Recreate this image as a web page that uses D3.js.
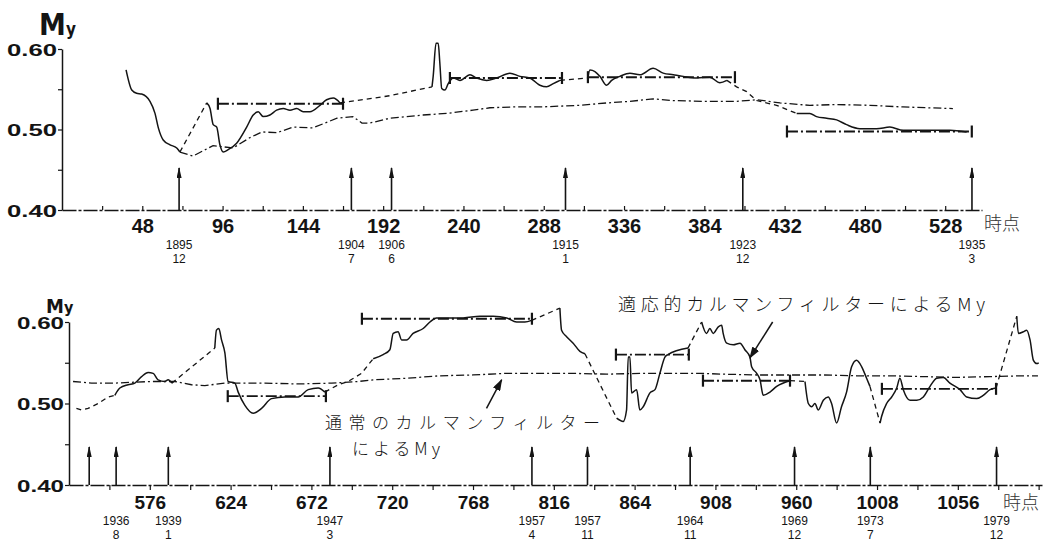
<!DOCTYPE html>
<html>
<head>
<meta charset="utf-8">
<script src="https://cdn.jsdelivr.net/npm/d3@7"></script>
<style>
  body { margin: 0; background: #fff; }
  svg { display: block; }
</style>
</head>
<body>
<svg id="chart" width="1046" height="543"></svg>
<script>
// ---- data (time index t, My value) ----

// y ticks
const yTickValues = [0.40, 0.50, 0.60];
const yTickLabels = ["0.40", "0.50", "0.60"];
const yMinorTicks = [0.45, 0.55];

// x tick labels
const topTickValues = [48, 96, 144, 192, 240, 288, 336, 384, 432, 480, 528];
const topTickLabels = ["48", "96", "144", "192", "240", "288", "336", "384", "432", "480", "528"];
const bottomTickValues = [576, 624, 672, 720, 768, 816, 864, 912, 960, 1008, 1056];
const bottomTickLabels = ["576", "624", "672", "720", "768", "816", "864", "908", "960", "1008", "1056"];

// events (arrows)
const topEvents = [70, 173, 197, 301, 407, 544];
const topEventLabels = [["1895", "12"], ["1904", "7"], ["1906", "6"], ["1915", "1"], ["1923", "12"], ["1935", "3"]];
const bottomEvents = [540, 556, 587, 683, 803, 836, 897, 959, 1004, 1079];
const bottomEventLabels = [null, ["1936", "8"], ["1939", "1"], ["1947", "3"], ["1957", "4"], ["1957", "11"],
  ["1964", "11"], ["1969", "12"], ["1973", "7"], ["1979", "12"]];

// adaptive Kalman filter My: observed pieces (solid) and interpolated pieces (dashed)
const topAdaptiveObs = [
  [[38.3,0.574],[41.7,0.549],[44.6,0.545],[47.6,0.544],[52.6,0.535],[55.6,0.520],[57.6,0.502],[60.5,0.487],[64.6,0.481],[68.6,0.477],[70.5,0.472]],
  [[86.5,0.533],[88.5,0.526],[90.4,0.506],[92.5,0.503],[94.4,0.481],[96.4,0.472],[99.4,0.475],[104.4,0.483],[110.4,0.503],[114.3,0.518],[117.3,0.522],[120.3,0.516],[124.3,0.518],[128.3,0.524],[132.3,0.526],[136.3,0.524],[140.3,0.526],[144.2,0.522],[148.2,0.522],[154.2,0.530],[158.2,0.537],[162.2,0.539],[166.2,0.533]],
  [[221.2,0.553],[221.9,0.566],[223.6,0.607],[224.9,0.607],[225.9,0.582],[227.0,0.551],[228.9,0.549],[230.9,0.557],[233.9,0.564],[237.9,0.561],[243.9,0.568],[247.9,0.564],[253.9,0.561],[259.8,0.564],[267.8,0.570],[273.8,0.566],[279.7,0.564],[285.7,0.555],[289.7,0.553],[293.7,0.557],[297.7,0.561]],
  [[314.4,0.564],[315.6,0.574],[318.6,0.572],[321.6,0.566],[325.6,0.555],[328.6,0.561],[333.5,0.566],[339.5,0.570],[345.5,0.568],[353.4,0.576],[359.4,0.570],[365.4,0.568],[371.4,0.566],[379.4,0.564],[387.3,0.565],[393.3,0.558],[397.5,0.561]],
  [[439.2,0.520],[447.1,0.520],[451.1,0.516],[457.1,0.514],[463.1,0.512],[469.0,0.506],[477.0,0.501],[487.0,0.501],[494.9,0.503],[502.9,0.499],[514.8,0.499],[522.8,0.499],[530.8,0.499],[540.8,0.497]]
];
const topAdaptiveGap = [
  [[70.5,0.472],[86.5,0.533]],
  [[166.2,0.533],[196.1,0.542],[221.2,0.553]],
  [[297.7,0.561],[314.4,0.564]],
  [[397.5,0.561],[403.3,0.553],[409.3,0.547],[415.2,0.536],[427.2,0.530],[439.2,0.520]]
];
const bottomAdaptiveObs = [
  [[555.2,0.510],[558.2,0.519],[563.1,0.523],[567.1,0.525],[571.1,0.533],[575.0,0.538],[578.0,0.537],[580.9,0.529],[584.9,0.527],[586.9,0.529],[589.1,0.525]],
  [[614.6,0.568],[615.6,0.590],[617.0,0.592],[618.6,0.578],[620.6,0.562],[622.5,0.527],[626.5,0.525],[628.5,0.514],[632.4,0.498],[637.4,0.488],[642.4,0.494],[648.3,0.506],[656.2,0.508],[664.1,0.508],[670.1,0.517],[676.0,0.519],[680.0,0.514]],
  [[708.7,0.555],[714.6,0.560],[718.6,0.566],[720.6,0.586],[723.5,0.588],[725.6,0.578],[728.5,0.578],[732.4,0.586],[738.4,0.592],[742.4,0.600],[746.3,0.605],[754.3,0.605],[762.2,0.605],[772.1,0.607],[780.0,0.607],[788.0,0.605],[793.9,0.600],[798.8,0.600],[802.8,0.602]],
  [[819.6,0.617],[820.6,0.590],[823.6,0.582],[827.5,0.574],[831.5,0.564],[834.5,0.561]],
  [[853.3,0.482],[857.2,0.478],[859.2,0.492],[860.2,0.557],[861.2,0.557],[862.2,0.513],[865.2,0.517],[867.1,0.492],[869.1,0.496],[873.1,0.513],[876.1,0.517],[879.0,0.537],[882.0,0.557],[883.8,0.560],[895.7,0.568]],
  [[903.8,0.600],[906.7,0.586],[908.7,0.592],[910.7,0.586],[913.7,0.594],[915.7,0.596],[916.6,0.586],[918.7,0.574],[922.6,0.572],[926.6,0.574],[929.5,0.566],[932.5,0.557],[933.5,0.545],[936.5,0.537],[938.5,0.529],[940.4,0.510],[944.4,0.514],[948.4,0.521],[956.3,0.528]],
  [[965.2,0.527],[967.2,0.500],[969.2,0.496],[971.1,0.500],[973.1,0.492],[976.1,0.504],[979.0,0.508],[981.0,0.500],[984.0,0.476],[986.9,0.496],[989.9,0.514],[992.9,0.545],[995.8,0.553],[998.9,0.545],[1001.8,0.531],[1003.8,0.521]],
  [[1009.8,0.476],[1010.7,0.484],[1013.7,0.500],[1016.7,0.508],[1019.7,0.519],[1021.6,0.531],[1023.6,0.517],[1027.6,0.504],[1031.6,0.504],[1035.5,0.508],[1039.5,0.521],[1043.4,0.531],[1047.4,0.532],[1051.3,0.525],[1057.3,0.517],[1061.3,0.508],[1067.2,0.506],[1071.1,0.510],[1075.1,0.517],[1078.7,0.519]],
  [[1091.0,0.607],[1092.0,0.586],[1094.9,0.588],[1096.9,0.590],[1098.9,0.578],[1100.9,0.553],[1102.9,0.549],[1104.0,0.550]]
];
const bottomAdaptiveGap = [
  [[532.4,0.494],[535.4,0.492],[539.3,0.494],[545.3,0.500],[551.2,0.508],[555.2,0.510]],
  [[589.1,0.525],[614.6,0.568]],
  [[680.0,0.514],[687.9,0.523],[693.8,0.527],[701.8,0.537],[708.7,0.555]],
  [[802.8,0.602],[819.6,0.617]],
  [[834.5,0.561],[853.3,0.482]],
  [[895.7,0.568],[903.8,0.600]],
  [[956.3,0.528],[965.2,0.527]],
  [[1003.8,0.521],[1009.8,0.476]],
  [[1078.7,0.519],[1091.0,0.607]]
];

// ordinary Kalman filter My
const topConventional = [[70.5,0.472],[78.3,0.467],[90.3,0.480],[102.2,0.477],[112.4,0.490],[119.5,0.497],[128.5,0.496],[138.1,0.503],[150.0,0.502],[164.4,0.514],[173.9,0.516],[179.3,0.508],[184.1,0.508],[196.1,0.514],[215.8,0.518],[230.1,0.520],[245.7,0.524],[255.8,0.527],[269.6,0.528],[285.7,0.528],[309.6,0.530],[325.8,0.533],[339.5,0.535],[353.3,0.538],[365.2,0.536],[383.1,0.535],[403.5,0.535],[415.4,0.537],[429.2,0.533],[447.1,0.530],[463.2,0.531],[482.9,0.530],[502.7,0.528],[532.6,0.526]];
const bottomConventional = [[530.4,0.527],[541.4,0.525],[555.2,0.525],[565.1,0.526],[577.0,0.527],[590.9,0.527],[600.8,0.523],[608.7,0.522],[620.6,0.525],[628.5,0.525],[644.3,0.525],[664.1,0.524],[684.0,0.525],[699.8,0.527],[708.7,0.529],[728.5,0.531],[748.3,0.534],[768.1,0.535],[788.0,0.537],[807.7,0.537],[827.5,0.537],[847.4,0.536],[867.2,0.537],[886.9,0.537],[902.8,0.537],[916.6,0.536],[936.5,0.535],[956.3,0.535],[976.1,0.535],[996.0,0.534],[1015.7,0.534],[1035.5,0.533],[1055.3,0.532],[1075.1,0.533],[1094.9,0.534],[1103.6,0.534]];

// period means [t start, t end, My]
const topMeans = [[93.2,168.0,0.532],[231.9,298.9,0.564],[314.4,402.3,0.565],[433.4,543.9,0.4975]];
const bottomMeans = [[622.3,680.6,0.509],[702.0,803.0,0.604],[852.9,896.2,0.560],[904.6,956.3,0.528],[1010.9,1078.7,0.518]];

// ---- drawing ----
const ink = "#141414";
const numFont = "'Liberation Sans', Arial, sans-serif";
const jpFont = "'Noto Sans CJK JP', sans-serif";

const svg = d3.select("#chart");
const defs = svg.append("defs");
defs.append("marker")
    .attr("id", "evHead")
    .attr("viewBox", "0 0 10 10")
    .attr("preserveAspectRatio", "none")
    .attr("refX", 9).attr("refY", 5)
    .attr("markerWidth", 11).attr("markerHeight", 5)
    .attr("markerUnits", "userSpaceOnUse")
    .attr("orient", "auto")
  .append("path").attr("d", "M0,0 L10,5 L0,10 Z").attr("fill", ink);
defs.append("marker")
    .attr("id", "noteHead")
    .attr("viewBox", "0 0 10 10")
    .attr("preserveAspectRatio", "none")
    .attr("refX", 9).attr("refY", 5)
    .attr("markerWidth", 12).attr("markerHeight", 8)
    .attr("markerUnits", "userSpaceOnUse")
    .attr("orient", "auto")
  .append("path").attr("d", "M0,0 L10,5 L0,10 Z").attr("fill", ink);

function drawPanel(cfg) {
  const x = d3.scaleLinear().domain(cfg.xDomain).range(cfg.xRange);
  const y = d3.scaleLinear().domain([0.40, 0.60]).range(cfg.yRange);
  const g = svg.append("g");
  const y0 = y(0.40);

  // x axis
  const labelOf = new Map(cfg.tickValues.map((v, i) => [v, cfg.tickLabels[i]]));
  const gx = g.append("g")
      .attr("transform", `translate(0,${y0})`)
      .call(d3.axisBottom(x)
        .tickValues(cfg.minorTicks)
        .tickSize(cfg.xTickSize)
        .tickSizeOuter(0)
        .tickFormat(d => labelOf.get(d) || ""));
  gx.select(".domain").attr("stroke", ink).attr("stroke-width", 1.3).attr("stroke-dasharray", "14 2 3 2");
  gx.selectAll(".tick line").attr("stroke", ink).attr("stroke-width", 1.2);
  gx.selectAll(".tick text")
      .attr("y", cfg.xLabelY).attr("dy", null)
      .attr("fill", ink)
      .style("font-family", numFont).style("font-weight", "bold").style("font-size", cfg.xLabelSize + "px");

  // y axis
  const gy = g.append("g")
      .attr("transform", `translate(${cfg.xRange[0]},0)`)
      .call(d3.axisLeft(y)
        .tickValues(yTickValues.concat(yMinorTicks))
        .tickSize(4)
        .tickSizeOuter(0)
        .tickFormat(d => { const i = yTickValues.indexOf(d); return i >= 0 ? yTickLabels[i] : ""; }));
  gy.select(".domain").attr("stroke", ink).attr("stroke-width", 1.5);
  gy.selectAll(".tick line").attr("stroke", ink).attr("stroke-width", 1.2);
  gy.selectAll(".tick text")
      .attr("x", -5).attr("dy", "0.36em")
      .attr("fill", ink)
      .attr("textLength", d => yTickValues.includes(d) ? cfg.yLabelWidth : null)
      .attr("lengthAdjust", "spacingAndGlyphs")
      .style("font-family", numFont).style("font-weight", "bold").style("font-size", "17px");

  // "My" axis title
  const my = g.append("text")
      .attr("x", cfg.myPos[0]).attr("y", cfg.myPos[1])
      .attr("fill", ink)
      .style("font-family", "'Liberation Sans Narrow', 'DejaVu Sans Condensed', " + numFont)
      .style("font-weight", "bold");
  my.append("tspan").text("M").style("font-size", cfg.mySize[0] + "px");
  my.append("tspan").text("y").style("font-size", cfg.mySize[1] + "px");

  // "時点" axis title
  g.append("text")
      .attr("x", cfg.unitPos[0]).attr("y", cfg.unitPos[1])
      .attr("fill", "#333")
      .style("font-family", jpFont).style("font-weight", 300).style("font-size", "18px")
      .text("時点");

  // ordinary Kalman My (dash-dot)
  const line = d3.line().x(d => x(d[0])).y(d => y(d[1]));
  g.append("path")
      .datum(cfg.conventional)
      .attr("d", line)
      .attr("fill", "none").attr("stroke", ink).attr("stroke-width", 1.3)
      .attr("stroke-dasharray", "8 3 2 3");

  // adaptive Kalman My: interpolated parts dashed, observed parts solid
  g.selectAll(".gap")
    .data(cfg.gaps)
    .join("path")
      .attr("class", "gap")
      .attr("d", line)
      .attr("fill", "none").attr("stroke", ink).attr("stroke-width", 1.3)
      .attr("stroke-dasharray", "5 4");
  const smooth = d3.line().x(d => x(d[0])).y(d => y(d[1])).curve(d3.curveMonotoneX);
  g.selectAll(".obs")
    .data(cfg.observed)
    .join("path")
      .attr("class", "obs")
      .attr("d", smooth)
      .attr("fill", "none").attr("stroke", ink).attr("stroke-width", 1.5)
      .attr("stroke-linejoin", "round");

  // period means with end caps
  const means = g.selectAll(".mean").data(cfg.means).join("g").attr("class", "mean");
  means.append("line")
      .attr("x1", d => x(d[0])).attr("x2", d => x(d[1]))
      .attr("y1", d => y(d[2])).attr("y2", d => y(d[2]))
      .attr("stroke", ink).attr("stroke-width", 1.9)
      .attr("stroke-dasharray", "11 3 2 3");
  [0, 1].forEach(k => {
    means.append("line")
        .attr("x1", d => x(d[k])).attr("x2", d => x(d[k]))
        .attr("y1", d => y(d[2]) - 6).attr("y2", d => y(d[2]) + 6)
        .attr("stroke", ink).attr("stroke-width", 2.2);
  });

  // event arrows and dates
  const ev = g.selectAll(".event").data(cfg.events).join("g").attr("class", "event");
  ev.append("line")
      .attr("x1", d => x(d)).attr("x2", d => x(d))
      .attr("y1", y0).attr("y2", y0 - cfg.arrowLen)
      .attr("stroke", ink).attr("stroke-width", 1.6)
      .attr("marker-end", "url(#evHead)");
  cfg.events.forEach((t, i) => {
    const lab = cfg.eventLabels[i];
    if (!lab) return;
    lab.forEach((s, j) => {
      g.append("text")
          .attr("x", x(t)).attr("y", cfg.dateY[j])
          .attr("text-anchor", "middle")
          .attr("fill", ink)
          .style("font-family", numFont).style("font-size", "12px")
          .text(s);
    });
  });
  return { x, y, g };
}

const topPanel = drawPanel({
  xDomain: [0, 550], xRange: [62, 982], yRange: [210, 49],
  minorTicks: d3.range(24, 549, 24),
  tickValues: topTickValues, tickLabels: topTickLabels,
  xTickSize: -4, xLabelY: 23, xLabelSize: 20,
  yLabelWidth: 50,
  myPos: [39, 35], mySize: [30, 17],
  unitPos: [984, 230],
  conventional: topConventional, gaps: topAdaptiveGap, observed: topAdaptiveObs, means: topMeans,
  events: topEvents, eventLabels: topEventLabels, arrowLen: 42, dateY: [249, 263]
});

const bottomPanel = drawPanel({
  xDomain: [528, 1106], xRange: [69, 1042], yRange: [485, 322],
  minorTicks: d3.range(552, 1105, 24),
  tickValues: bottomTickValues, tickLabels: bottomTickLabels,
  xTickSize: 5, xLabelY: 24, xLabelSize: 19,
  yLabelWidth: 47,
  myPos: [46, 313], mySize: [20, 16],
  unitPos: [1003, 509],
  conventional: bottomConventional, gaps: bottomAdaptiveGap, observed: bottomAdaptiveObs, means: bottomMeans,
  events: bottomEvents, eventLabels: bottomEventLabels, arrowLen: 38, dateY: [525, 539]
});

// annotations
const notes = svg.append("g")
    .attr("fill", ink)
    .style("font-family", jpFont).style("font-weight", 300);
notes.append("text").attr("x", 618).attr("y", 311)
    .style("font-size", "18px")
    .attr("textLength", 367).attr("lengthAdjust", "spacing")
    .text("適応的カルマンフィルターによるMy");
notes.append("text").attr("x", 325).attr("y", 429)
    .style("font-size", "17px")
    .attr("textLength", 275).attr("lengthAdjust", "spacing")
    .text("通常のカルマンフィルター");
notes.append("text").attr("x", 352).attr("y", 455)
    .style("font-size", "17px")
    .attr("textLength", 88).attr("lengthAdjust", "spacing")
    .text("によるMy");

// leader arrows pointing at the two curves
const bx = bottomPanel.x, by = bottomPanel.y;
svg.append("line")
    .attr("x1", bx(946)).attr("y1", by(0.600))
    .attr("x2", bx(932.5)).attr("y2", by(0.556))
    .attr("stroke", ink).attr("stroke-width", 1.5)
    .attr("marker-end", "url(#noteHead)");
svg.append("line")
    .attr("x1", bx(776)).attr("y1", by(0.494))
    .attr("x2", bx(785)).attr("y2", by(0.529))
    .attr("stroke", ink).attr("stroke-width", 1.5)
    .attr("marker-end", "url(#noteHead)");
</script>
</body>
</html>
